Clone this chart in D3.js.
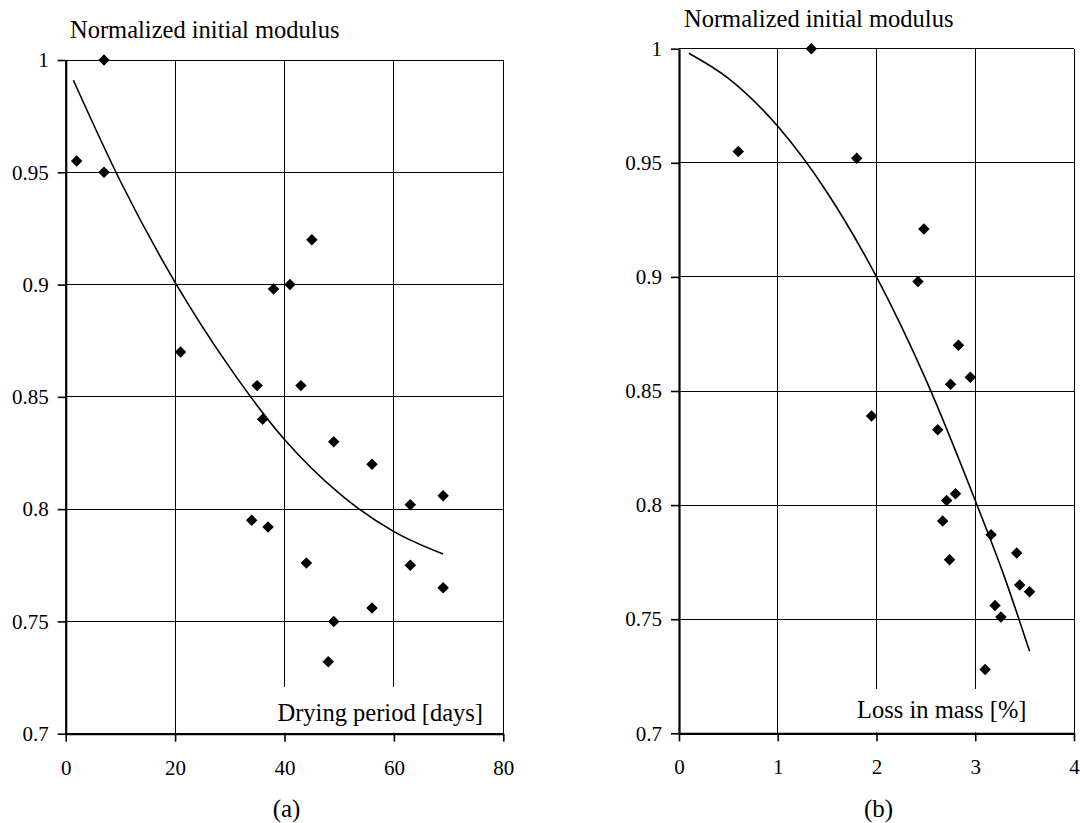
<!DOCTYPE html>
<html>
<head>
<meta charset="utf-8">
<script src="https://cdn.jsdelivr.net/npm/d3@7"></script>
<style>
  body { margin: 0; background: #fff; }
  svg { display: block; }
</style>
</head>
<body>
<svg id="chart" width="1080" height="823"></svg>
<script>

// (a) drying period vs normalized initial modulus
var dryDays    = [2, 7, 7, 21, 34, 35, 36, 37, 38, 41, 43, 44, 45, 48, 49, 49, 56, 56, 63, 63, 69, 69]
var dryModulus = [0.955, 1.0, 0.95, 0.87, 0.795, 0.855, 0.84, 0.792, 0.898, 0.9, 0.855, 0.776, 0.92, 0.732, 0.83, 0.75, 0.82, 0.756, 0.802, 0.775, 0.806, 0.765]
// trend line
var dryTrendX  = [1.4, 10, 20, 30, 40, 50, 60, 69]
var dryTrendY  = [0.991, 0.946, 0.901, 0.863, 0.831, 0.807, 0.790, 0.780]
var dryXTicks  = [0, 20, 40, 60, 80]

// (b) loss in mass vs normalized initial modulus
var lossPct     = [0.6, 1.34, 1.8, 1.95, 2.42, 2.48, 2.62, 2.67, 2.71, 2.74, 2.75, 2.8, 2.83, 2.95, 3.1, 3.16, 3.2, 3.26, 3.42, 3.45, 3.55]
var lossModulus = [0.955, 1.0, 0.952, 0.839, 0.898, 0.921, 0.833, 0.793, 0.802, 0.776, 0.853, 0.805, 0.87, 0.856, 0.728, 0.787, 0.756, 0.751, 0.779, 0.765, 0.762]
var lossTrendX  = [0.1, 0.5, 1.0, 1.5, 2.0, 2.5, 3.0, 3.3, 3.55]
var lossTrendY  = [0.998, 0.987, 0.966, 0.937, 0.900, 0.855, 0.802, 0.768, 0.736]
var lossXTicks  = [0, 1, 2, 3, 4]

var yTicks      = [0.7, 0.75, 0.8, 0.85, 0.9, 0.95, 1]
var yTickLabels = ["0.7", "0.75", "0.8", "0.85", "0.9", "0.95", "1"]

var serif = "'Liberation Serif', 'Times New Roman', serif"

var svg = d3.select("#chart")

var panels = [
    {
        xs: dryDays, ys: dryModulus, tx: dryTrendX, ty: dryTrendY,
        xDomain: [0, 80], xTicks: dryXTicks,
        left: 65.7, right: 503.3, top: 60, bottom: 733.7,
        title: "Normalized initial modulus", titleX: 70, titleY: 38,
        label: "Drying period [days]", labelEnd: 483, labelY: 721, boxTop: 687,
        tag: "(a)"
    },
    {
        xs: lossPct, ys: lossModulus, tx: lossTrendX, ty: lossTrendY,
        xDomain: [0, 4], xTicks: lossXTicks,
        left: 679, right: 1074, top: 48.7, bottom: 733.3,
        title: "Normalized initial modulus", titleX: 684, titleY: 27,
        label: "Loss in mass [%]", labelEnd: 1026.5, labelY: 718, boxTop: 689,
        tag: "(b)"
    }
]

panels.forEach(function(p){

    var xScale = d3.scaleLinear().domain(p.xDomain).range([p.left, p.right])
    var yScale = d3.scaleLinear().domain([0.7, 1]).range([p.bottom, p.top])

    var g = svg.append("g")

    // grid
    g.selectAll(".hgrid")
        .data(yTicks.slice(1))
        .enter()
        .append("line")
        .attr("x1", p.left).attr("x2", p.right)
        .attr("y1", d => yScale(d)).attr("y2", d => yScale(d))
        .attr("stroke", "#000").attr("stroke-width", 1)
        .attr("shape-rendering", "crispEdges")

    g.selectAll(".vgrid")
        .data(p.xTicks.slice(1))
        .enter()
        .append("line")
        .attr("x1", d => xScale(d)).attr("x2", d => xScale(d))
        .attr("y1", p.top).attr("y2", p.bottom)
        .attr("stroke", "#000").attr("stroke-width", 1)
        .attr("shape-rendering", "crispEdges")

    // axis title inside plot, on a white box
    var label = g.append("text")
        .attr("x", p.labelEnd)
        .attr("y", p.labelY)
        .attr("text-anchor", "end")
        .style("font-family", serif)
        .style("font-size", "24.5px")
        .text(p.label)
    var w = label.node().getComputedTextLength()
    g.insert("rect", "text")
        .attr("x", p.labelEnd - w - 8)
        .attr("y", p.boxTop)
        .attr("width", p.right - 1 - (p.labelEnd - w - 8))
        .attr("height", p.bottom - p.boxTop - 1)
        .attr("fill", "#fff")

    // trend line
    var line = d3.line()
        .x(d => xScale(d[0]))
        .y(d => yScale(d[1]))
        .curve(d3.curveMonotoneX)

    g.append("path")
        .datum(p.tx.map((x, i) => [x, p.ty[i]]))
        .attr("d", line)
        .attr("fill", "none")
        .attr("stroke", "#000")
        .attr("stroke-width", 1.6)

    // points
    g.selectAll(".pt")
        .data(p.xs.map((x, i) => [x, p.ys[i]]))
        .enter()
        .append("path")
        .attr("d", d3.symbol().type(d3.symbolSquare).size(66))
        .attr("transform", d => "translate(" + xScale(d[0]) + "," + yScale(d[1]) + ") rotate(45)")
        .attr("fill", "#000")

    // axes
    var yAxis = d3.axisLeft(yScale)
        .tickValues(yTicks)
        .tickFormat((d, i) => yTickLabels[i])
        .tickSize(8).tickSizeOuter(0).tickPadding(9)

    var xAxis = d3.axisBottom(xScale)
        .tickValues(p.xTicks)
        .tickFormat(d => String(d))
        .tickSize(8).tickSizeOuter(0).tickPadding(18)

    var ya = g.append("g")
        .attr("transform", "translate(" + p.left + ",0)")
        .call(yAxis)
    var xa = g.append("g")
        .attr("transform", "translate(0," + p.bottom + ")")
        .call(xAxis)

    ;[ya, xa].forEach(function(a){
        a.select(".domain").attr("stroke", "#000").attr("stroke-width", 2.2)
        a.selectAll(".tick line").attr("stroke", "#000").attr("stroke-width", 1.6)
        a.selectAll(".tick text")
            .style("font-family", serif)
            .style("font-size", "21px")
            .attr("fill", "#000")
    })

    svg.append("text")
        .attr("x", p.titleX)
        .attr("y", p.titleY)
        .style("font-family", serif)
        .style("font-size", "24.5px")
        .text(p.title)

    svg.append("text")
        .attr("x", (p.left + p.right) / 2 + 2)
        .attr("y", 817)
        .attr("text-anchor", "middle")
        .style("font-family", serif)
        .style("font-size", "25px")
        .text(p.tag)
})

</script>
</body>
</html>
